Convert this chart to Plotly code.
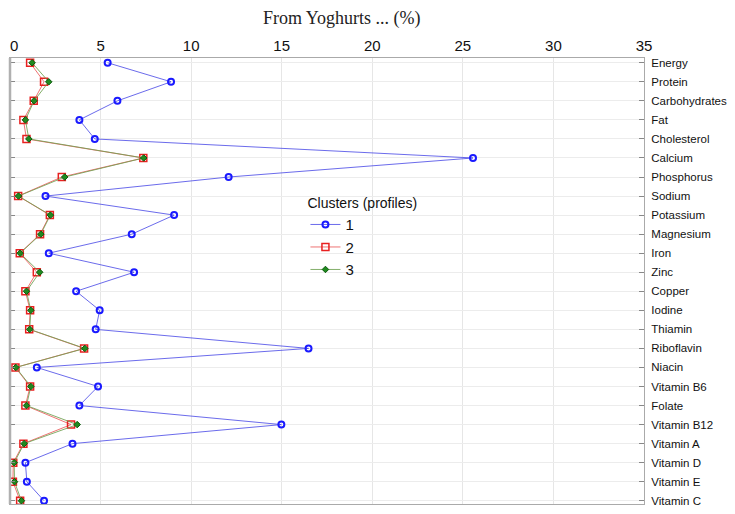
import plotly.graph_objects as go

nutrients = ["Energy", "Protein", "Carbohydrates", "Fat", "Cholesterol", "Calcium",
             "Phosphorus", "Sodium", "Potassium", "Magnesium", "Iron", "Zinc",
             "Copper", "Iodine", "Thiamin", "Riboflavin", "Niacin", "Vitamin B6",
             "Folate", "Vitamin B12", "Vitamin A", "Vitamin D", "Vitamin E", "Vitamin C"]

cluster1 = [5.39, 8.89, 5.93, 3.83, 4.68, 25.56, 12.07, 1.96, 9.06, 6.72, 2.14, 6.85,
            3.65, 4.95, 4.73, 16.48, 1.48, 4.86, 3.83, 14.98, 3.45, 0.85, 0.93, 1.88]
cluster2 = [1.11, 1.88, 1.31, 0.74, 0.91, 7.36, 2.86, 0.45, 2.20, 1.66, 0.54, 1.48,
            0.85, 1.11, 1.06, 4.09, 0.30, 1.11, 0.85, 3.37, 0.74, 0.18, 0.16, 0.56]
cluster3 = [1.22, 2.14, 1.33, 0.85, 1.04, 7.38, 3.02, 0.47, 2.23, 1.70, 0.56, 1.64,
            0.91, 1.15, 1.09, 4.13, 0.32, 1.15, 0.91, 3.71, 0.78, 0.23, 0.25, 0.63]

x_ticks = [0, 5, 10, 15, 20, 25, 30, 35]

tick_font = dict(family="Liberation Sans Narrow, Liberation Sans, Arial", size=15, color="#111")

fig = go.Figure()
fig.add_trace(go.Scatter(
    x=cluster1, y=nutrients, name="1", mode="lines+markers",
    line=dict(color="rgba(70,70,230,0.8)", width=1),
    marker=dict(symbol="circle-open", size=6, color="#1a1aff", line=dict(width=2))))
fig.add_trace(go.Scatter(
    x=cluster2, y=nutrients, name="2", mode="lines+markers",
    line=dict(color="rgba(235,90,90,0.85)", width=1),
    marker=dict(symbol="square-open", size=7, color="#e82020", line=dict(width=1.5))))
fig.add_trace(go.Scatter(
    x=cluster3, y=nutrients, name="3", mode="lines+markers",
    line=dict(color="rgba(110,160,80,0.85)", width=1),
    marker=dict(symbol="diamond", size=5, color="#1f8a1f", line=dict(width=1, color="#0b5a0b"))))

fig.update_layout(
    width=735, height=514,
    margin=dict(l=2, r=99, t=50, b=18, autoexpand=False),
    paper_bgcolor="white", plot_bgcolor="white",
    title=dict(text="From Yoghurts ... (%)", x=0.454, xanchor="center", y=0.993, yanchor="top",
               font=dict(family="Liberation Serif, Times New Roman, serif", size=18, color="#222")),
    font=dict(family="Liberation Sans, Arial, sans-serif", color="#111"),
    showlegend=True,
    legend=dict(title=dict(text="Clusters (profiles)", font=dict(size=14)),
                x=0.466, y=0.704, xanchor="left", yanchor="top",
                bgcolor="rgba(0,0,0,0)", font=dict(size=15), tracegroupgap=0,
                itemwidth=30),
)
fig.update_xaxes(
    side="top", range=[0, 35], tickvals=x_ticks, ticks="", automargin=False,
    tickfont=tick_font,
    showgrid=True, gridcolor="#e6e6e6", gridwidth=1, zeroline=False,
    showline=True, linecolor="#aaaaaa", linewidth=1, mirror=True)
fig.update_yaxes(
    side="right", type="category", categoryorder="array", categoryarray=nutrients,
    range=[23.17, -0.25], ticks="inside", ticklen=5, tickcolor="#888", automargin=False,
    ticklabelstandoff=4,
    tickfont=dict(size=11.5), showgrid=True, gridcolor="#ececec", zeroline=False,
    showline=True, linecolor="#aaaaaa", linewidth=1, mirror="ticks")

# the first tick label sits at the very edge of the page; draw it explicitly so it stays visible
fig.add_annotation(x=x_ticks[0], xref="x", y=1, yref="paper", yanchor="bottom",
                   xanchor="left", xshift=-2, yshift=2, text=str(x_ticks[0]),
                   showarrow=False, font=tick_font)

fig.add_shape(type="line", xref="paper", yref="paper", x0=0, x1=0, y0=0, y1=1,
              line=dict(color="#b0b0b0", width=2.5))

fig.write_html("out.html")
